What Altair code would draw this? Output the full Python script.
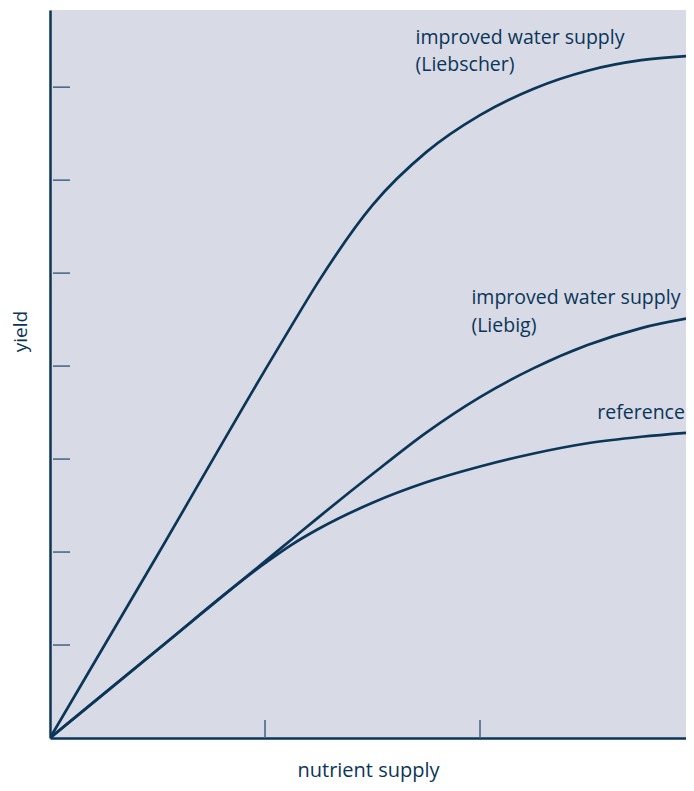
import altair as alt
import pandas as pd

# nutrient supply (relative units)
x_vals = [0, 0.5, 1.0, 1.125, 1.25, 1.5, 1.75, 2.0, 2.25, 2.5, 2.75, 3.0]
# yield curves
reference = [0, 0.95, 1.88, 2.08, 2.25, 2.53, 2.75, 2.92, 3.06, 3.17, 3.24, 3.29]
liebig = [0, 0.95, 1.90, 2.138, 2.376, 2.839, 3.285, 3.667, 3.978, 4.226, 4.409, 4.527]
liebscher = [0, 1.968, 3.957, 4.441, 4.914, 5.731, 6.301, 6.699, 6.984, 7.177, 7.290, 7.339]

series_names = ["reference", "liebig", "liebscher"]

y_ticks = [1, 2, 3, 4, 5, 6, 7]
x_ticks = [1, 2]

label_text = ["improved water supply", "(Liebscher)", "improved water supply", "(Liebig)", "reference"]
label_x = [1.70, 1.70, 1.96, 1.96, 2.953]
label_y = [7.53, 7.24, 4.73, 4.43, 3.50]
label_align = ["left", "left", "left", "left", "right"]

rows = []
for name, vals in zip(series_names, [reference, liebig, liebscher]):
    for x, y in zip(x_vals, vals):
        rows.append({"series": name, "x": x, "y": y})
curves = pd.DataFrame(rows)

labels = pd.DataFrame({"text": label_text, "x": label_x, "y": label_y, "align": label_align})

NAVY = "#0b3658"
TICK = "#4b6a88"
FONT = "Open Sans"

xs = alt.Scale(domain=[0, 2.958], nice=False, zero=True)
ys = alt.Scale(domain=[0, 7.83], nice=False, zero=True)

lines = alt.Chart(curves).mark_line(color=NAVY, strokeWidth=2.7, interpolate="monotone", clip=True).encode(
    x=alt.X("x:Q", scale=xs,
            axis=alt.Axis(title="nutrient supply", labels=False, ticks=False, grid=False,
                          domainColor=NAVY, domainWidth=2.5, titlePadding=22,
                          titleFont=FONT, titleFontSize=20, titleFontWeight="normal", titleColor=NAVY)),
    y=alt.Y("y:Q", scale=ys,
            axis=alt.Axis(title="yield", labels=False, ticks=False, grid=False,
                          domainColor=NAVY, domainWidth=2.5, titlePadding=20, titleY=321,
                          titleFont=FONT, titleFontSize=19, titleFontWeight="normal", titleColor=NAVY)),
    detail="series:N",
)

ytick_df = pd.DataFrame({"v": y_ticks})
xtick_df = pd.DataFrame({"v": x_ticks})

yt = alt.Chart(ytick_df).mark_rule(color=TICK, strokeWidth=1.6).encode(
    y=alt.Y("v:Q", scale=ys), x=alt.value(3), x2=alt.value(20)
)
xt = alt.Chart(xtick_df).mark_rule(color=TICK, strokeWidth=1.6).encode(
    x=alt.X("v:Q", scale=xs), y=alt.value(710), y2=alt.value(728)
)

left_labels = alt.Chart(labels[labels["align"] == "left"]).mark_text(
    align="left", baseline="middle", font=FONT, fontSize=19.5, color=NAVY
).encode(x=alt.X("x:Q", scale=xs), y=alt.Y("y:Q", scale=ys), text="text:N")

right_labels = alt.Chart(labels[labels["align"] == "right"]).mark_text(
    align="right", baseline="middle", font=FONT, fontSize=19.5, color=NAVY
).encode(x=alt.X("x:Q", scale=xs), y=alt.Y("y:Q", scale=ys), text="text:N")

chart = alt.layer(lines, yt, xt, left_labels, right_labels).properties(
    width=636, height=728,
    autosize=alt.AutoSizeParams(type="none"),
    padding={"left": 42, "top": 2, "right": 0, "bottom": 45},
    background="white",
).configure_view(fill="#d8dae6", stroke=None)

chart.save("out.html", embed_options={"renderer": "svg", "actions": False})
